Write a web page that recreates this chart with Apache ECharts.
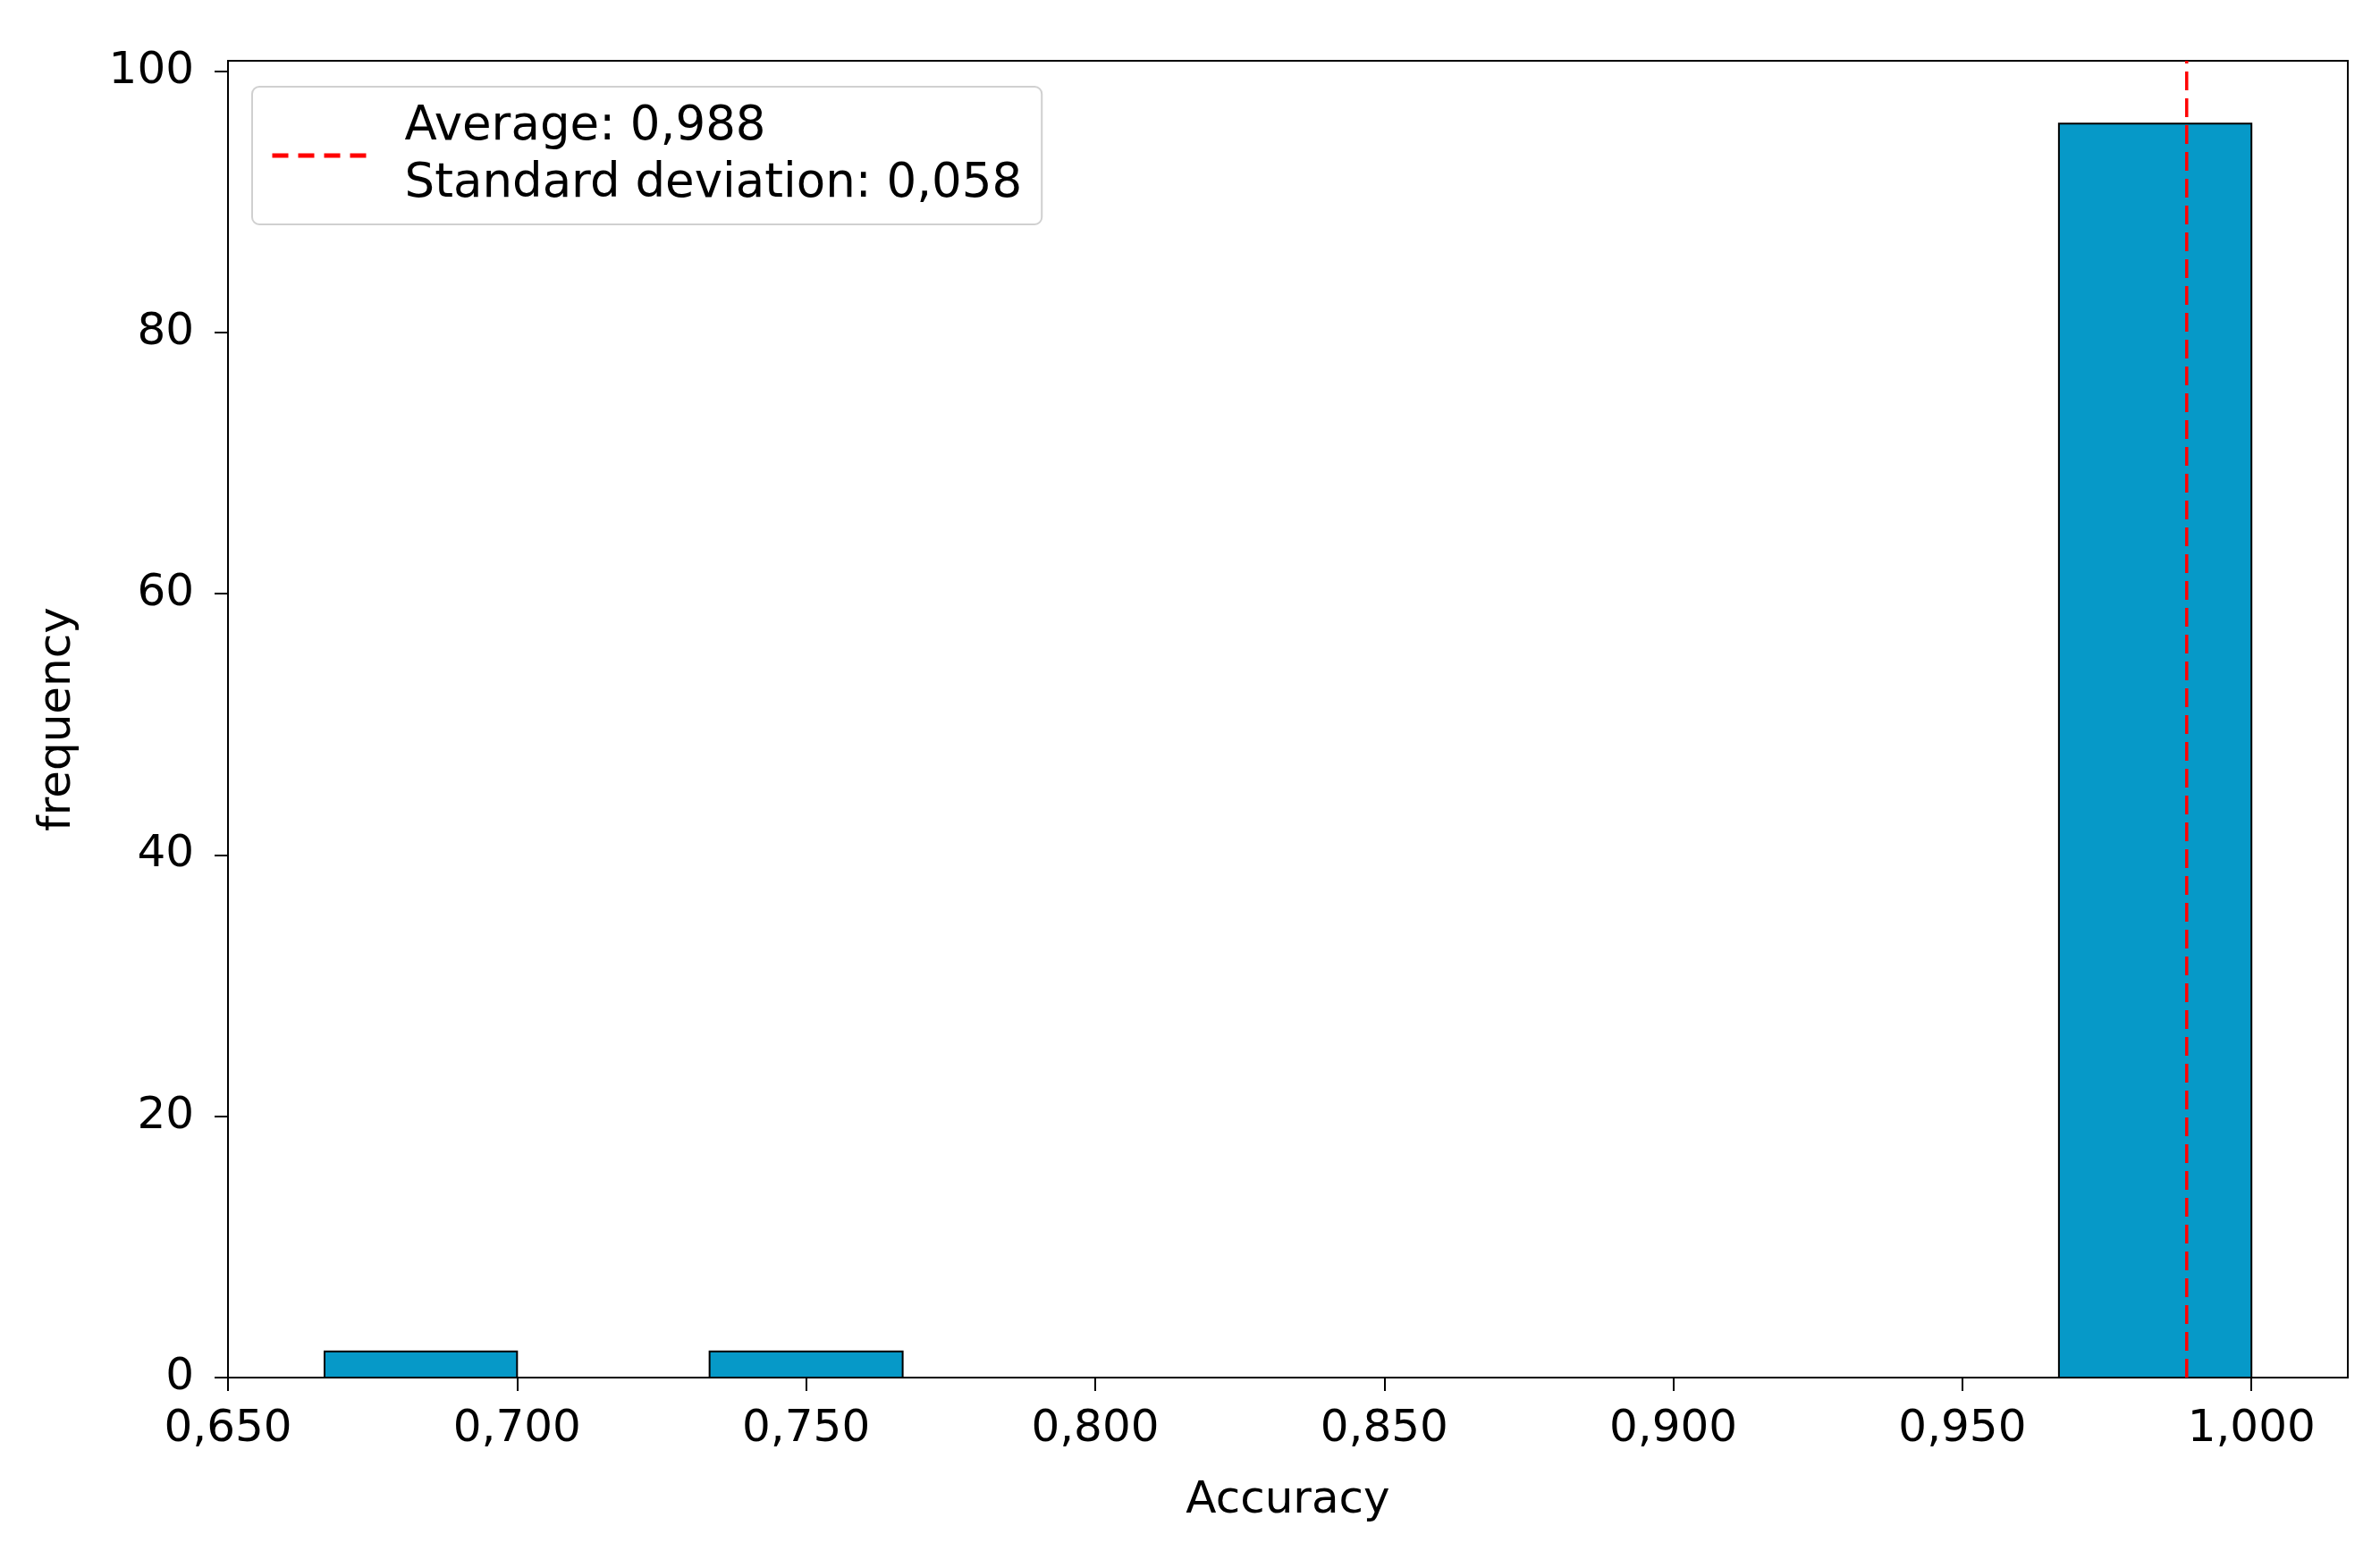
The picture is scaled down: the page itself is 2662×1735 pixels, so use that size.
<!DOCTYPE html>
<html>
<head>
<meta charset="utf-8">
<script src="https://cdn.jsdelivr.net/npm/echarts@6/dist/echarts.min.js"></script>
<style>
html,body{margin:0;padding:0;background:#fff;}
#chart{width:2662px;height:1735px;}
</style>
</head>
<body>
<div id="chart"></div>
<script>
// Histogram bins (edges) and counts
const binStarts = [0.6667, 0.7000, 0.7333, 0.7667, 0.8000, 0.8333, 0.8667, 0.9000, 0.9333, 0.9667];
const binEnds   = [0.7000, 0.7333, 0.7667, 0.8000, 0.8333, 0.8667, 0.9000, 0.9333, 0.9667, 1.0000];
const counts    = [2, 0, 2, 0, 0, 0, 0, 0, 0, 96];
// Average (vertical dashed line) position
const meanValue = 0.9888;
const legendLabel = 'Average: 0,988\nStandard deviation: 0,058';
// Axis ranges
const xMin = 0.65, xMax = 1.01667, xStep = 0.05;
const yMin = 0, yMax = 100.8, yStep = 20;

const histData = binStarts.map((s, i) => [s, binEnds[i], counts[i]]);
const FONT = 'DejaVu Sans';

const chart = echarts.init(document.getElementById('chart'));
chart.setOption({
  animation: false,
  backgroundColor: '#ffffff',
  textStyle: { fontFamily: FONT, color: '#000' },
  grid: {
    left: 255, right: 36, top: 68, bottom: 194,
    show: true, borderColor: '#000', borderWidth: 2, backgroundColor: 'transparent'
  },
  legend: {
    left: 282, top: 97,
    orient: 'vertical',
    padding: [13, 22, 13, 20],
    backgroundColor: '#fff',
    borderColor: '#d0d0d0', borderWidth: 2, borderRadius: 8,
    itemWidth: 105, itemHeight: 20,
    itemStyle: { opacity: 0 },
    lineStyle: { color: '#ff0000', width: 5, type: [18, 11] },
    textStyle: { fontFamily: FONT, fontSize: 53, lineHeight: 64, color: '#000', padding: [0, 0, 0, 38] },
    data: [legendLabel]
  },
  xAxis: {
    type: 'value', min: xMin, max: xMax, interval: xStep,
    name: 'Accuracy', nameLocation: 'middle', nameGap: 113,
    nameTextStyle: { fontFamily: FONT, fontSize: 50, color: '#000' },
    axisLine: { show: true, onZero: false, lineStyle: { color: '#000', width: 2 } },
    axisTick: { show: true, inside: false, length: 15, lineStyle: { color: '#000', width: 2 } },
    axisLabel: {
      fontFamily: FONT, fontSize: 50, color: '#000', margin: 33, showMaxLabel: false,
      formatter: v => (Math.abs(Math.round(v / xStep) * xStep - v) < 1e-6) ? v.toFixed(3).replace('.', ',') : ''
    },
    splitLine: { show: false }
  },
  yAxis: {
    type: 'value', min: yMin, max: yMax, interval: yStep,
    name: 'frequency', nameLocation: 'middle', nameGap: 165, nameRotate: 90,
    nameTextStyle: { fontFamily: FONT, fontSize: 50, color: '#000' },
    axisLine: { show: true, lineStyle: { color: '#000', width: 2 } },
    axisTick: { show: true, inside: false, length: 15, lineStyle: { color: '#000', width: 2 } },
    axisLabel: {
      fontFamily: FONT, fontSize: 50, color: '#000', margin: 38, showMaxLabel: false,
      formatter: v => (v % yStep === 0) ? String(v) : ''
    },
    splitLine: { show: false }
  },
  series: [
    {
      type: 'custom',
      name: 'hist',
      data: histData,
      encode: { x: [0, 1], y: 2 },
      renderItem: function (params, api) {
        const c = api.value(2);
        if (!c) return null;
        const p0 = api.coord([api.value(0), c]);
        const p1 = api.coord([api.value(1), 0]);
        return {
          type: 'rect',
          shape: { x: p0[0], y: p0[1], width: p1[0] - p0[0], height: p1[1] - p0[1] },
          style: { fill: '#0699c8', stroke: '#000', lineWidth: 2 }
        };
      },
      z: 2
    },
    {
      type: 'line',
      name: legendLabel,
      data: [[meanValue, yMin], [meanValue, yMax]],
      symbol: 'none',
      lineStyle: { color: '#ff0000', width: 3.5, type: [21, 9] },
      itemStyle: { color: '#ff0000' },
      z: 3
    }
  ]
});
</script>
</body>
</html>
